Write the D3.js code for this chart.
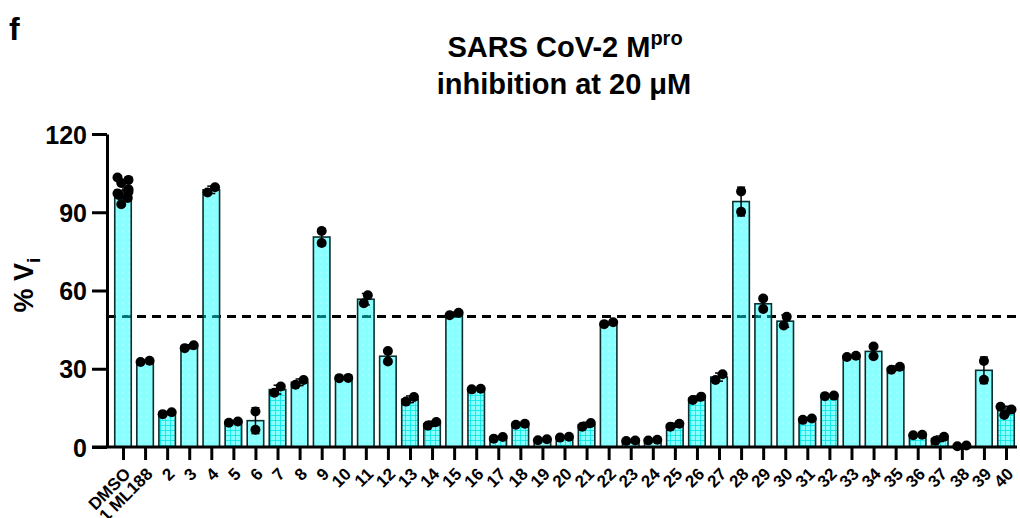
<!DOCTYPE html>
<html>
<head>
<meta charset="utf-8">
<script src="https://cdn.jsdelivr.net/npm/d3@7"></script>
<style>
  body { margin: 0; background: #fff; }
  text { font-family: "Liberation Sans", Arial, sans-serif; font-weight: bold; fill: #000; }
</style>
</head>
<body>
<div id="chart"></div>
<script>
// categories (x axis)
var labels = ["DMSO", "1 ML188", "2", "3", "4", "5", "6", "7", "8", "9", "10",
  "11", "12", "13", "14", "15", "16", "17", "18", "19", "20",
  "21", "22", "23", "24", "25", "26", "27", "28", "29", "30",
  "31", "32", "33", "34", "35", "36", "37", "38", "39", "40"];

// replicate values, % Vi
var replicates = [
  [103.3, 102.4, 101.2, 98.8, 97.9, 97.2, 96.6, 95.5, 93.1],
  [32.6, 33.1],
  [12.6, 13.3],
  [37.9, 39.0],
  [97.6, 99.6],
  [9.3, 9.8],
  [13.6, 6.6],
  [20.8, 23.2],
  [23.9, 25.7],
  [82.8, 78.2],
  [26.4, 26.5],
  [55.1, 58.2],
  [36.8, 32.8],
  [17.4, 19.2],
  [8.2, 9.6],
  [50.5, 51.5],
  [22.1, 22.3],
  [3.2, 3.8],
  [8.5, 8.9],
  [2.6, 3.0],
  [3.6, 3.9],
  [7.8, 9.2],
  [47.1, 47.8],
  [2.3, 2.5],
  [2.5, 2.8],
  [7.8, 8.9],
  [18.0, 19.3],
  [25.7, 27.9],
  [98.0, 90.2],
  [56.9, 52.9],
  [46.6, 49.9],
  [10.4, 10.9],
  [19.5, 19.7],
  [34.5, 35.0],
  [38.5, 34.8],
  [29.6, 30.8],
  [4.5, 4.7],
  [2.4, 3.9],
  [0.3, 0.6],
  [33.0, 25.8],
  [15.4, 14.4, 12.3]
];

// bars drawn with the grid hatch, the rest use the dotted fill
var gridBars = ["2", "5", "7", "13", "14", "16", "17", "18", "20", "21",
  "25", "26", "31", "32", "36", "37", "40"];

var yTicks = [0, 30, 60, 90, 120];
var cutoff = 50;

var width = 1020, height = 518;
var svg = d3.select("#chart").append("svg")
  .attr("width", width)
  .attr("height", height);

var defs = svg.append("defs");

var dotPat = defs.append("pattern")
  .attr("id", "dotfill")
  .attr("patternUnits", "userSpaceOnUse")
  .attr("width", 6).attr("height", 6);
dotPat.append("rect").attr("width", 6).attr("height", 6)
  .attr("fill", "#00ffff").attr("fill-opacity", 0.46);
dotPat.append("circle").attr("cx", 3).attr("cy", 3).attr("r", 0.6)
  .attr("fill", "#fff").attr("fill-opacity", 0.7);

var gridPat = defs.append("pattern")
  .attr("id", "gridfill")
  .attr("patternUnits", "userSpaceOnUse")
  .attr("width", 5).attr("height", 5);
gridPat.append("rect").attr("width", 5).attr("height", 5)
  .attr("fill", "#00ffff").attr("fill-opacity", 0.46);
gridPat.append("path").attr("d", "M0,0.5H5M0.5,0V5")
  .attr("stroke", "#00e6e6").attr("stroke-width", 0.8).attr("fill", "none");

var x = d3.scalePoint().domain(labels).range([123, 1006]);
var y = d3.scaleLinear().domain([0, 120]).range([447, 134]);
var barW = 16.5;

var data = labels.map(function (l, i) {
  return {
    label: l,
    vals: replicates[i],
    mean: d3.mean(replicates[i]),
    sd: d3.deviation(replicates[i]) || 0
  };
});

// panel letter and title
svg.append("text").attr("x", 9).attr("y", 40)
  .style("font-size", "32px").text("f");

var title = svg.append("text").attr("x", 565).attr("y", 57)
  .attr("text-anchor", "middle").style("font-size", "29px");
title.append("tspan").text("SARS CoV-2 M");
title.append("tspan").attr("dy", -12).style("font-size", "20px").text("pro");
svg.append("text").attr("x", 564).attr("y", 94)
  .attr("text-anchor", "middle").style("font-size", "29px")
  .text("inhibition at 20 \u03bcM");

// y label
var yl = svg.append("text")
  .attr("transform", "translate(33,285) rotate(-90)")
  .attr("text-anchor", "middle").style("font-size", "27px");
yl.append("tspan").text("% V");
yl.append("tspan").attr("dy", 7).style("font-size", "19px").text("i");

// cutoff line (under the bars)
svg.append("line")
  .attr("x1", 107).attr("x2", 1017)
  .attr("y1", y(cutoff)).attr("y2", y(cutoff))
  .attr("stroke", "#000").attr("stroke-width", 3)
  .attr("stroke-dasharray", "9,6");

// bars
svg.selectAll(".bar")
  .data(data)
  .enter().append("rect")
  .attr("class", "bar")
  .attr("x", function (d) { return x(d.label) - barW / 2; })
  .attr("y", function (d) { return y(d.mean); })
  .attr("width", barW)
  .attr("height", function (d) { return y(0) - y(d.mean); })
  .attr("fill", function (d) {
    return gridBars.indexOf(d.label) >= 0 ? "url(#gridfill)" : "url(#dotfill)";
  })
  .attr("stroke", "#0b2e2e")
  .attr("stroke-width", 1.6);

// error bars (mean +/- SD)
var eb = svg.selectAll(".err")
  .data(data.filter(function (d) { return d.sd > 0; }))
  .enter().append("g").attr("class", "err")
  .attr("stroke", "#000").attr("stroke-width", 1.5);
eb.append("line")
  .attr("x1", function (d) { return x(d.label); })
  .attr("x2", function (d) { return x(d.label); })
  .attr("y1", function (d) { return y(d.mean + d.sd); })
  .attr("y2", function (d) { return y(Math.max(0, d.mean - d.sd)); });
eb.append("line")
  .attr("x1", function (d) { return x(d.label) - 4; })
  .attr("x2", function (d) { return x(d.label) + 4; })
  .attr("y1", function (d) { return y(d.mean + d.sd); })
  .attr("y2", function (d) { return y(d.mean + d.sd); });
eb.append("line")
  .attr("x1", function (d) { return x(d.label) - 4; })
  .attr("x2", function (d) { return x(d.label) + 4; })
  .attr("y1", function (d) { return y(Math.max(0, d.mean - d.sd)); })
  .attr("y2", function (d) { return y(Math.max(0, d.mean - d.sd)); });

// replicate dots, spread sideways where they overlap
var r = 5, minDist = 9, maxOff = 5.5;
var points = [];
data.forEach(function (d) {
  var placed = [];
  d.vals.slice().sort(d3.ascending).forEach(function (v) {
    var py = y(v), off = 0;
    for (var k = 0; k < 60; k++) {
      off = k === 0 ? 0 : (k % 2 ? 1 : -1) * Math.ceil(k / 2) * 0.5;
      var ok = placed.every(function (p) {
        return Math.hypot(p.off - off, p.py - py) >= minDist;
      });
      if (ok) break;
    }
    placed.push({ off: off, py: py });
  });
  var ext = d3.extent(placed, function (p) { return p.off; });
  var mid = (ext[0] + ext[1]) / 2;
  placed.forEach(function (p) {
    var o = Math.max(-maxOff, Math.min(maxOff, p.off - mid));
    points.push({ cx: x(d.label) + o, cy: p.py });
  });
});

svg.selectAll(".pt")
  .data(points)
  .enter().append("circle")
  .attr("class", "pt")
  .attr("cx", function (d) { return d.cx; })
  .attr("cy", function (d) { return d.cy; })
  .attr("r", r)
  .attr("fill", "#000");

// axes
var yAxis = svg.append("g")
  .attr("transform", "translate(107,0)")
  .call(d3.axisLeft(y).tickValues(yTicks).tickSize(15).tickSizeOuter(0).tickPadding(5));
yAxis.selectAll("path, line").attr("stroke", "#000").attr("stroke-width", 3);
yAxis.selectAll("text").style("font-size", "25px").attr("dy", "0.36em");

var xAxis = svg.append("g")
  .attr("transform", "translate(0,447)")
  .call(d3.axisBottom(x).tickSize(13).tickSizeOuter(0));
xAxis.select(".domain").remove();
xAxis.selectAll("line").attr("stroke", "#000").attr("stroke-width", 3);
xAxis.selectAll("text")
  .attr("y", 0).attr("dy", 0)
  .attr("transform", "translate(8,28) rotate(-45)")
  .attr("text-anchor", "end")
  .style("font-size", "17px");
svg.append("line")
  .attr("x1", 92).attr("x2", 1017)
  .attr("y1", 447).attr("y2", 447)
  .attr("stroke", "#000").attr("stroke-width", 3);
</script>
</body>
</html>
